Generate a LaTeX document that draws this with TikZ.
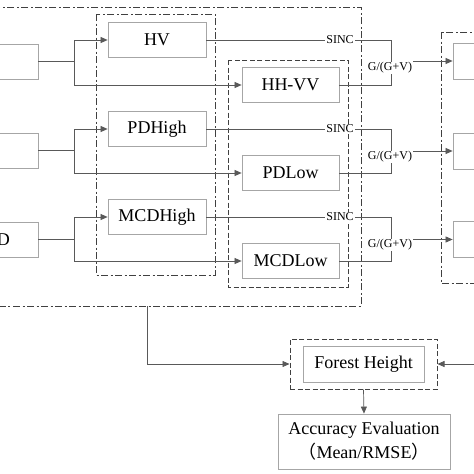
\documentclass[tikz,border=0pt]{standalone}
\usepackage{fontspec}
\setmainfont{Liberation Serif}
\newfontfamily\cjk{Noto Sans CJK SC}
\usetikzlibrary{arrows.meta}

\tikzset{
  box/.style={draw=black!35, line width=0.8pt, minimum width=98pt, minimum height=35pt,
    inner sep=0pt, font=\fontsize{18}{20}\selectfont},
  link/.style={draw=black!65, line width=0.7pt},
  tip/.style={-{Triangle[length=7pt,width=6pt]}},
  lbl/.style={fill=white, inner sep=1pt, font=\fontsize{12}{13}\selectfont},
  dashdotline/.style={draw=black!75, line width=1pt, dash pattern=on 7pt off 2.5pt on 2pt off 2.5pt},
  dashline/.style={draw=black!75, line width=1pt, dash pattern=on 5pt off 2.5pt}
}

\begin{document}
\begin{tikzpicture}[x=1pt,y=-1pt]
\useasboundingbox (0,0) rectangle (474,474);
\clip (0,0) rectangle (474,474);
\fill[white] (0,0) rectangle (474,474);
% group boxes
\draw[dashdotline] (-10,7) rectangle (361,306);
\draw[dashdotline] (96,14) rectangle (215,275);
\draw[dashline] (228,60) rectangle (348,287);
\draw[dashdotline] (441,32) rectangle (490,283);
% input boxes (cut at the left edge)
\node[box, minimum width=80pt] (in1) at (-2,61.5) {};
\node[box, minimum width=80pt] (in2) at (-2,150.5) {};
\node[box, minimum width=80pt] (in3) at (-2,239.5) {};
\node[anchor=east, inner sep=0pt, font=\fontsize{18}{20}\selectfont] (in3txt) at (10,239.5) {D};
% high / low boxes
\node[box] (hv) at (157,40) {HV};
\node[box] (pdhigh) at (157,129) {PDHigh};
\node[box] (mcdhigh) at (157,217) {MCDHigh};
\node[box, minimum width=97pt] (hhvv) at (290.5,85) {HH-VV};
\node[box, minimum width=97pt] (pdlow) at (290.5,173) {PDLow};
\node[box, minimum width=97pt] (mcdlow) at (290.5,261) {MCDLow};
% output boxes (cut at the right edge)
\node[box, minimum width=80pt, minimum height=36pt] (out1) at (493,61) {};
\node[box, minimum width=80pt, minimum height=36pt] (out2) at (493,151) {};
\node[box, minimum width=80pt, minimum height=36pt] (out3) at (493,239.5) {};
% inputs to high / low
\draw[link,tip] (in1.east) -- ++(36,0) |- (hv.west);
\draw[link,tip] (in1.east) -- ++(36,0) |- (hhvv.west);
\draw[link,tip] (in2.east) -- ++(36,0) |- (pdhigh.west);
\draw[link,tip] (in2.east) -- ++(36,0) |- (pdlow.west);
\draw[link,tip] (in3.east) -- ++(36,0) |- (mcdhigh.west);
\draw[link,tip] (in3.east) -- ++(36,0) |- (mcdlow.west);
% SINC and G/(G+V)
\foreach \hi/\lo/\ya/\k in {hv/hhvv/40/1, pdhigh/pdlow/129/2, mcdhigh/mcdlow/217/3}{
  \node[lbl] (sinc\k) at (340,\ya) {SINC};
  \coordinate (m\k) at (391,\ya);
  \draw[link] (\hi.east) -- (sinc\k.west);
  \draw[link] (sinc\k.east) -- (m\k) -- (m\k |- \lo.east) -- (\lo.east);
}
\node[lbl] (g1) at (390,68) {G/(G+V)};
\node[lbl] (g2) at (390,157) {G/(G+V)};
\node[lbl] (g3) at (390,245) {G/(G+V)};
\draw[link,tip] (g1.east |- out1.west) -- (out1.west);
\draw[link,tip] (g2.east |- out2.west) -- (out2.west);
\draw[link,tip] (g3.east |- out3.west) -- (out3.west);
% forest height
\node[dashline, minimum width=147pt, minimum height=50pt] (fhgroup) at (363.5,364) {};
\node[box, minimum width=121pt, minimum height=36pt] (fh) at (fhgroup) {Forest Height};
\node[box, minimum width=172pt, minimum height=55pt, align=center,
  font=\fontsize{18}{24}\selectfont] (acc) at (364,441.5)
  {Accuracy Evaluation\\{\cjk （}Mean/RMSE{\cjk ）}};
\coordinate (obot) at (147,306);
\coordinate (rin) at (480,364);
\draw[link,tip] (obot) |- (fhgroup.west);
\draw[link,tip] (rin) -- (fhgroup.east);
\draw[link,tip] (fhgroup.south) -- (acc.north);
\end{tikzpicture}
\end{document}
